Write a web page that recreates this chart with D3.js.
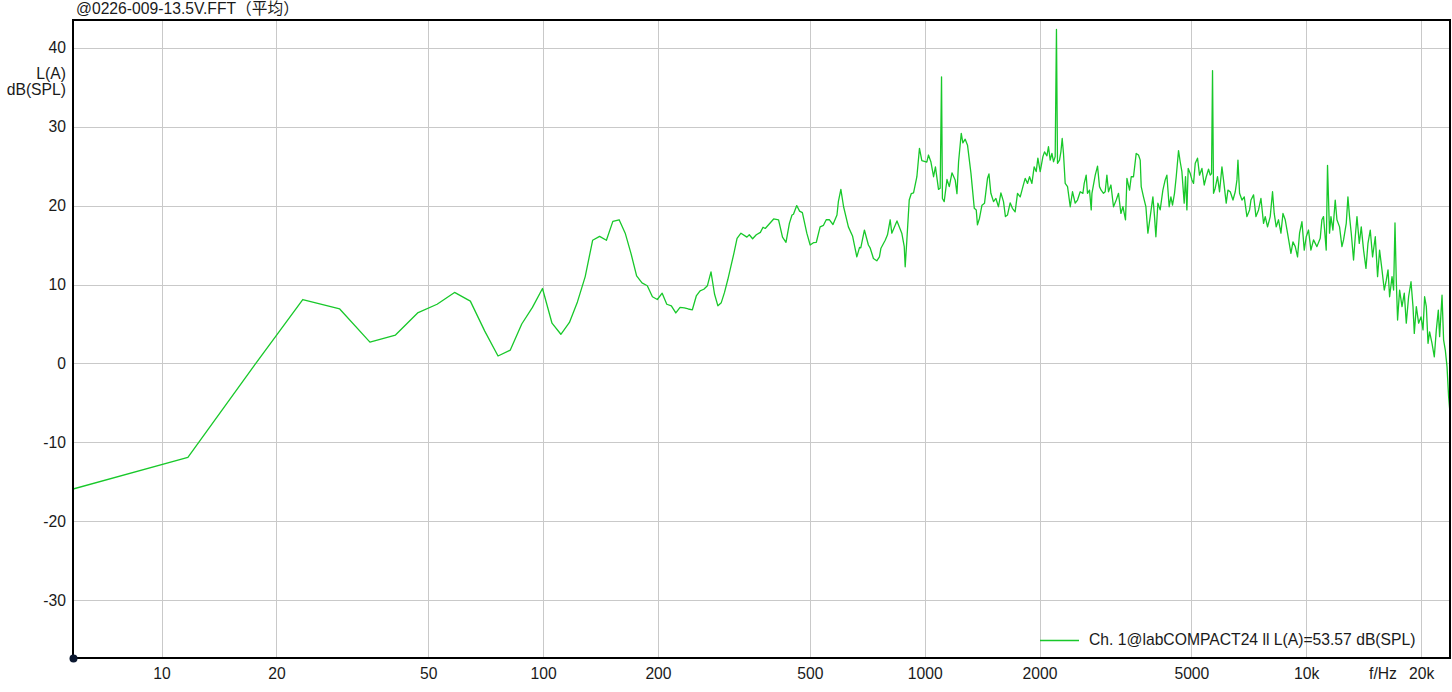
<!DOCTYPE html>
<html>
<head>
<meta charset="utf-8">
<script src="https://cdn.jsdelivr.net/npm/d3@7"></script>
<style>
  html, body { margin: 0; padding: 0; background: #ffffff; }
  svg { display: block; }
  text { font-family: "Liberation Sans", Arial, "Noto Sans CJK SC", sans-serif; fill: #1a1a1a; }
</style>
</head>
<body>
<svg id="chart" width="1452" height="692"></svg>
<script>
// ---------------- DATA ----------------
const chartTitle = "@0226-009-13.5V.FFT（平均）";
const yUnitLines = ["L(A)", "dB(SPL)"];
const xUnitLabel = "f/Hz";
const legendLabel = "Ch. 1@labCOMPACT24 ll L(A)=53.57 dB(SPL)";

const xTickValues = [10, 20, 50, 100, 200, 500, 1000, 2000, 5000, 10000, 20000];
const xTickLabels = ["10", "20", "50", "100", "200", "500", "1000", "2000", "5000", "10k", "20k"];
const yTickValues = [-30, -20, -10, 0, 10, 20, 30, 40];

const freqHz = [
  5.86, 11.72, 17.58, 23.44, 29.30, 35.16, 41.02, 46.88, 52.73, 58.59,
  64.45, 70.31, 76.17, 82.03, 87.89, 93.75, 99.61, 105.5, 111.3, 117.2,
  123.0, 128.9, 134.8, 140.6, 146.5, 152.3, 158.2, 164.1, 169.9, 175.8,
  181.6, 187.5, 193.4, 199.2, 205.1, 210.9, 216.8, 222.7, 228.5, 234.4,
  240.2, 246.1, 252.0, 257.8, 263.7, 269.5, 275.4, 281.3, 287.1, 293.0,
  298.8, 304.7, 310.5, 316.4, 322.3,
  330, 342, 347, 354, 362, 371, 377, 382, 402, 414,
  424, 433, 442, 449, 453, 462, 470, 478, 491, 501,
  511, 520, 532, 543, 552, 563, 575, 589, 594, 603,
  613, 631, 647, 664, 675, 680, 695, 712, 720, 734,
  749, 761, 768, 788, 799, 812, 820, 846, 871, 884,
  889, 898, 911, 922, 935, 954, 969, 983, 1013, 1023,
  1038, 1055, 1067, 1087, 1098, 1107, 1113, 1125, 1144, 1160,
  1179, 1202, 1215, 1227, 1247, 1259, 1277, 1295, 1322, 1349,
  1365, 1375, 1392, 1413, 1435, 1461, 1474, 1491, 1515, 1537,
  1561, 1584, 1609, 1628, 1648, 1675, 1698, 1726, 1751, 1780,
  1809, 1834, 1860, 1883, 1910, 1936, 1960, 1980, 2008, 2041,
  2061, 2091, 2111, 2133, 2155, 2176, 2198, 2215, 2229, 2256,
  2275, 2293, 2311, 2335, 2368, 2407, 2440, 2480, 2515, 2556,
  2598, 2619, 2650, 2671, 2704, 2732, 2744, 2799, 2838, 2872,
  2901, 2942, 2972, 3003, 3032, 3077, 3125, 3177, 3221, 3268,
  3308, 3360, 3389, 3443, 3478, 3526, 3584, 3634, 3672, 3694,
  3745, 3800, 3846, 3900, 3964, 4003, 4036, 4085, 4142, 4210,
  4269, 4313, 4373, 4419, 4462, 4516, 4563, 4627, 4674, 4722,
  4788, 4826, 4867, 4905, 4966, 5017, 5066, 5118, 5189, 5252,
  5329, 5403, 5469, 5546, 5603, 5647, 5681, 5715, 5774, 5855,
  5926, 6013, 6071, 6170, 6235, 6322, 6427, 6516, 6583, 6623,
  6688, 6785, 6879, 6992, 7103, 7164, 7277, 7383, 7499, 7609,
  7729, 7808, 7918, 8047, 8160, 8243, 8343, 8460, 8584, 8690,
  8810, 8933, 9118, 9230, 9359, 9489, 9605, 9745, 9881, 10000,
  10139, 10287, 10450, 10666, 10881, 10992, 11099, 11282, 11371, 11510,
  11609, 11749, 11912, 12036, 12226, 12405, 12526, 12732, 12861, 12987,
  13122, 13305, 13443, 13583, 13772, 13938, 14135, 14341, 14514, 14716,
  14924, 15170, 15382, 15568, 15796, 16016, 16212, 16381, 16540, 16782,
  16945, 17086, 17219, 17355, 17568, 17825, 18072, 18290, 18548, 18820,
  19047, 19197, 19433, 19704, 19992, 20234, 20430, 20643, 20853, 21055,
  21363, 21661, 21927, 22192, 22367, 22694, 22909, 23147, 23388, 23615,
  23855
];

const levelDb = [
  -15.9, -11.9, -0.1, 8.1, 6.9, 2.7, 3.6, 6.4, 7.5, 9.0,
  7.9, 4.1, 0.95, 1.7, 5.0, 7.1, 9.5, 5.1, 3.7, 5.2,
  7.8, 11.0, 15.6, 16.1, 15.6, 18.0, 18.2, 16.5, 13.95, 11.1,
  10.2, 9.85, 8.45, 8.1, 8.9, 7.5, 7.3, 6.4, 7.1, 7.05,
  6.9, 6.8, 8.55, 9.2, 9.4, 9.85, 11.6, 8.8, 7.3, 7.7,
  9.0, 10.6, 12.3, 14.0, 15.85,
  16.5, 16.0, 16.3, 15.8, 16.3, 16.6, 17.25, 17.1, 18.3, 18.2,
  16.0, 15.35, 17.75, 18.8, 18.9, 20.0, 19.3, 19.1, 16.5, 15.0,
  15.3, 15.35, 17.3, 17.5, 18.2, 18.2, 17.6, 18.8, 20.5, 22.05,
  19.85, 17.3, 16.15, 13.5, 14.7, 14.65, 16.9, 15.0, 14.6, 13.3,
  13.0, 13.5, 14.6, 15.6, 16.3, 18.2, 16.5, 18.05, 16.5, 14.8,
  12.25, 15.6, 20.7, 21.5, 21.6, 23.65, 27.25, 25.7, 25.5, 26.4,
  25.55, 23.65, 24.9, 22.05, 22.2, 36.3, 20.9, 20.5, 23.3, 22.4,
  24.15, 23.25, 21.5, 25.55, 29.15, 27.95, 28.4, 27.65, 24.1, 19.65,
  19.45, 17.55, 18.4, 20.05, 20.3, 23.45, 24.0, 21.55, 20.5, 20.9,
  19.85, 21.6, 20.5, 18.6, 18.8, 20.35, 19.65, 19.2, 21.55, 21.1,
  22.4, 23.45, 22.8, 23.65, 22.8, 24.9, 24.3, 26.0, 24.3, 26.2,
  26.8, 26.3, 27.45, 25.75, 26.6, 25.55, 26.2, 42.3, 25.35, 25.75,
  26.8, 28.5, 26.6, 22.8, 22.4, 19.85, 21.75, 20.3, 20.7, 21.75,
  21.55, 22.8, 23.85, 21.55, 21.95, 19.45, 21.55, 23.85, 25.0, 22.4,
  21.95, 21.55, 21.75, 23.85, 21.75, 22.6, 19.85, 20.7, 21.55, 19.0,
  19.85, 18.2, 23.45, 21.95, 23.65, 23.65, 26.6, 26.4, 25.75, 22.4,
  21.1, 19.85, 16.5, 18.6, 21.1, 18.6, 16.05, 20.3, 19.45, 21.95,
  23.25, 23.85, 19.85, 21.1, 20.05, 21.55, 23.65, 26.95, 25.55, 24.3,
  20.3, 23.65, 19.45, 24.7, 24.05, 23.25, 22.8, 25.35, 26.0, 23.85,
  24.7, 22.6, 23.65, 24.6, 23.85, 24.05, 37.1, 21.55, 22.2, 23.65,
  21.75, 24.9, 23.25, 20.3, 21.95, 21.75, 20.7, 21.75, 23.25, 25.75,
  21.55, 20.7, 21.1, 18.6, 19.45, 20.7, 21.35, 18.6, 19.45, 20.9,
  17.75, 18.6, 17.3, 18.6, 21.75, 19.0, 17.3, 18.2, 16.5, 19.0,
  18.2, 16.5, 13.95, 15.4, 14.8, 13.5, 16.5, 17.95, 14.35, 16.05,
  16.9, 14.35, 15.65, 14.8, 15.85, 18.2, 18.6, 14.35, 25.1, 16.5,
  18.6, 16.9, 20.7, 18.2, 17.3, 14.8, 15.65, 17.75, 21.1, 18.6,
  16.5, 13.1, 16.05, 18.6, 15.2, 17.3, 14.35, 12.05, 15.2, 16.9,
  13.5, 16.05, 11.0, 14.35, 11.85, 9.3, 10.55, 11.85, 8.45, 11.0,
  9.3, 17.8, 10.55, 5.5, 9.3, 7.2, 8.9, 5.1, 8.45, 10.35,
  7.2, 3.8, 7.2, 5.1, 5.9, 4.25, 8.45, 7.2, 2.55, 4.0,
  2.55, 0.85, 4.25, 6.75, 3.4, 8.65, 3.0, 1.7, -0.4, -4.2,
  -6.75
];

// ---------------- LAYOUT ----------------
const plot = { left: 73, top: 20, right: 1450, bottom: 658 };
const fontSize = 15.7;

const svg = d3.select("#chart");

const x = d3.scaleLog().domain([5.859, 24000]).range([plot.left, 1451.3]);
const y = d3.scaleLinear().domain([-37.3, 43.5]).range([plot.bottom, plot.top]);

// clip
svg.append("defs").append("clipPath").attr("id", "plotClip")
  .append("rect")
  .attr("x", plot.left).attr("y", plot.top)
  .attr("width", plot.right - plot.left).attr("height", plot.bottom - plot.top);

// gridlines
const grid = svg.append("g").attr("class", "grid");
grid.selectAll("line.vx").data(xTickValues).enter().append("line")
  .attr("x1", d => Math.round(x(d)) + 0.5).attr("x2", d => Math.round(x(d)) + 0.5)
  .attr("y1", plot.top).attr("y2", plot.bottom)
  .attr("stroke", "#c9c9c9").attr("stroke-width", 1);
grid.selectAll("line.hy").data(yTickValues).enter().append("line")
  .attr("y1", d => Math.round(y(d)) + 0.5).attr("y2", d => Math.round(y(d)) + 0.5)
  .attr("x1", plot.left).attr("x2", plot.right)
  .attr("stroke", "#c9c9c9").attr("stroke-width", 1);

// data line
const pts = freqHz.map((f, i) => [f, levelDb[i]]);
const line = d3.line().x(d => x(d[0])).y(d => y(d[1])).curve(d3.curveLinear);
svg.append("path")
  .attr("clip-path", "url(#plotClip)")
  .attr("d", line(pts))
  .attr("fill", "none")
  .attr("stroke", "#18c82a")
  .attr("stroke-width", 1.3)
  .attr("stroke-linejoin", "round");

// frame
const frame = svg.append("g");
frame.append("line").attr("x1", plot.left).attr("x2", plot.right + 1).attr("y1", plot.top).attr("y2", plot.top)
  .attr("stroke", "#000").attr("stroke-width", 2);
frame.append("line").attr("x1", plot.right).attr("x2", plot.right).attr("y1", plot.top).attr("y2", plot.bottom)
  .attr("stroke", "#000").attr("stroke-width", 2);
frame.append("line").attr("x1", plot.left).attr("x2", plot.left).attr("y1", plot.top - 1).attr("y2", plot.bottom)
  .attr("stroke", "#000").attr("stroke-width", 2);
frame.append("line").attr("x1", plot.left).attr("x2", plot.right + 1).attr("y1", plot.bottom).attr("y2", plot.bottom)
  .attr("stroke", "#000").attr("stroke-width", 2);
frame.append("circle").attr("cx", plot.left + 0.5).attr("cy", plot.bottom + 0.5).attr("r", 4)
  .attr("fill", "#0b1830");

// y tick labels
svg.append("g").selectAll("text").data(yTickValues).enter().append("text")
  .attr("x", 66).attr("y", d => y(d) + 5.5)
  .attr("text-anchor", "end")
  .style("font-size", fontSize + "px")
  .text(d => d);

// y unit
svg.append("g").selectAll("text").data(yUnitLines).enter().append("text")
  .attr("x", 66).attr("y", (d, i) => 79 + i * 16)
  .attr("text-anchor", "end")
  .style("font-size", fontSize + "px")
  .text(d => d);

// x tick labels
svg.append("g").selectAll("text").data(xTickValues).enter().append("text")
  .attr("x", d => x(d) + 0.5).attr("y", 679)
  .attr("text-anchor", "middle")
  .style("font-size", fontSize + "px")
  .text((d, i) => xTickLabels[i]);

svg.append("text").attr("x", 1383).attr("y", 679).attr("text-anchor", "middle")
  .style("font-size", fontSize + "px").text(xUnitLabel);

// title
svg.append("text").attr("x", 76).attr("y", 14)
  .style("font-size", fontSize + "px").text(chartTitle);

// legend
svg.append("line").attr("x1", 1040).attr("x2", 1079).attr("y1", 640.5).attr("y2", 640.5)
  .attr("stroke", "#18c82a").attr("stroke-width", 1.3);
svg.append("text").attr("x", 1089).attr("y", 645)
  .style("font-size", fontSize + "px").text(legendLabel);
</script>
</body>
</html>
